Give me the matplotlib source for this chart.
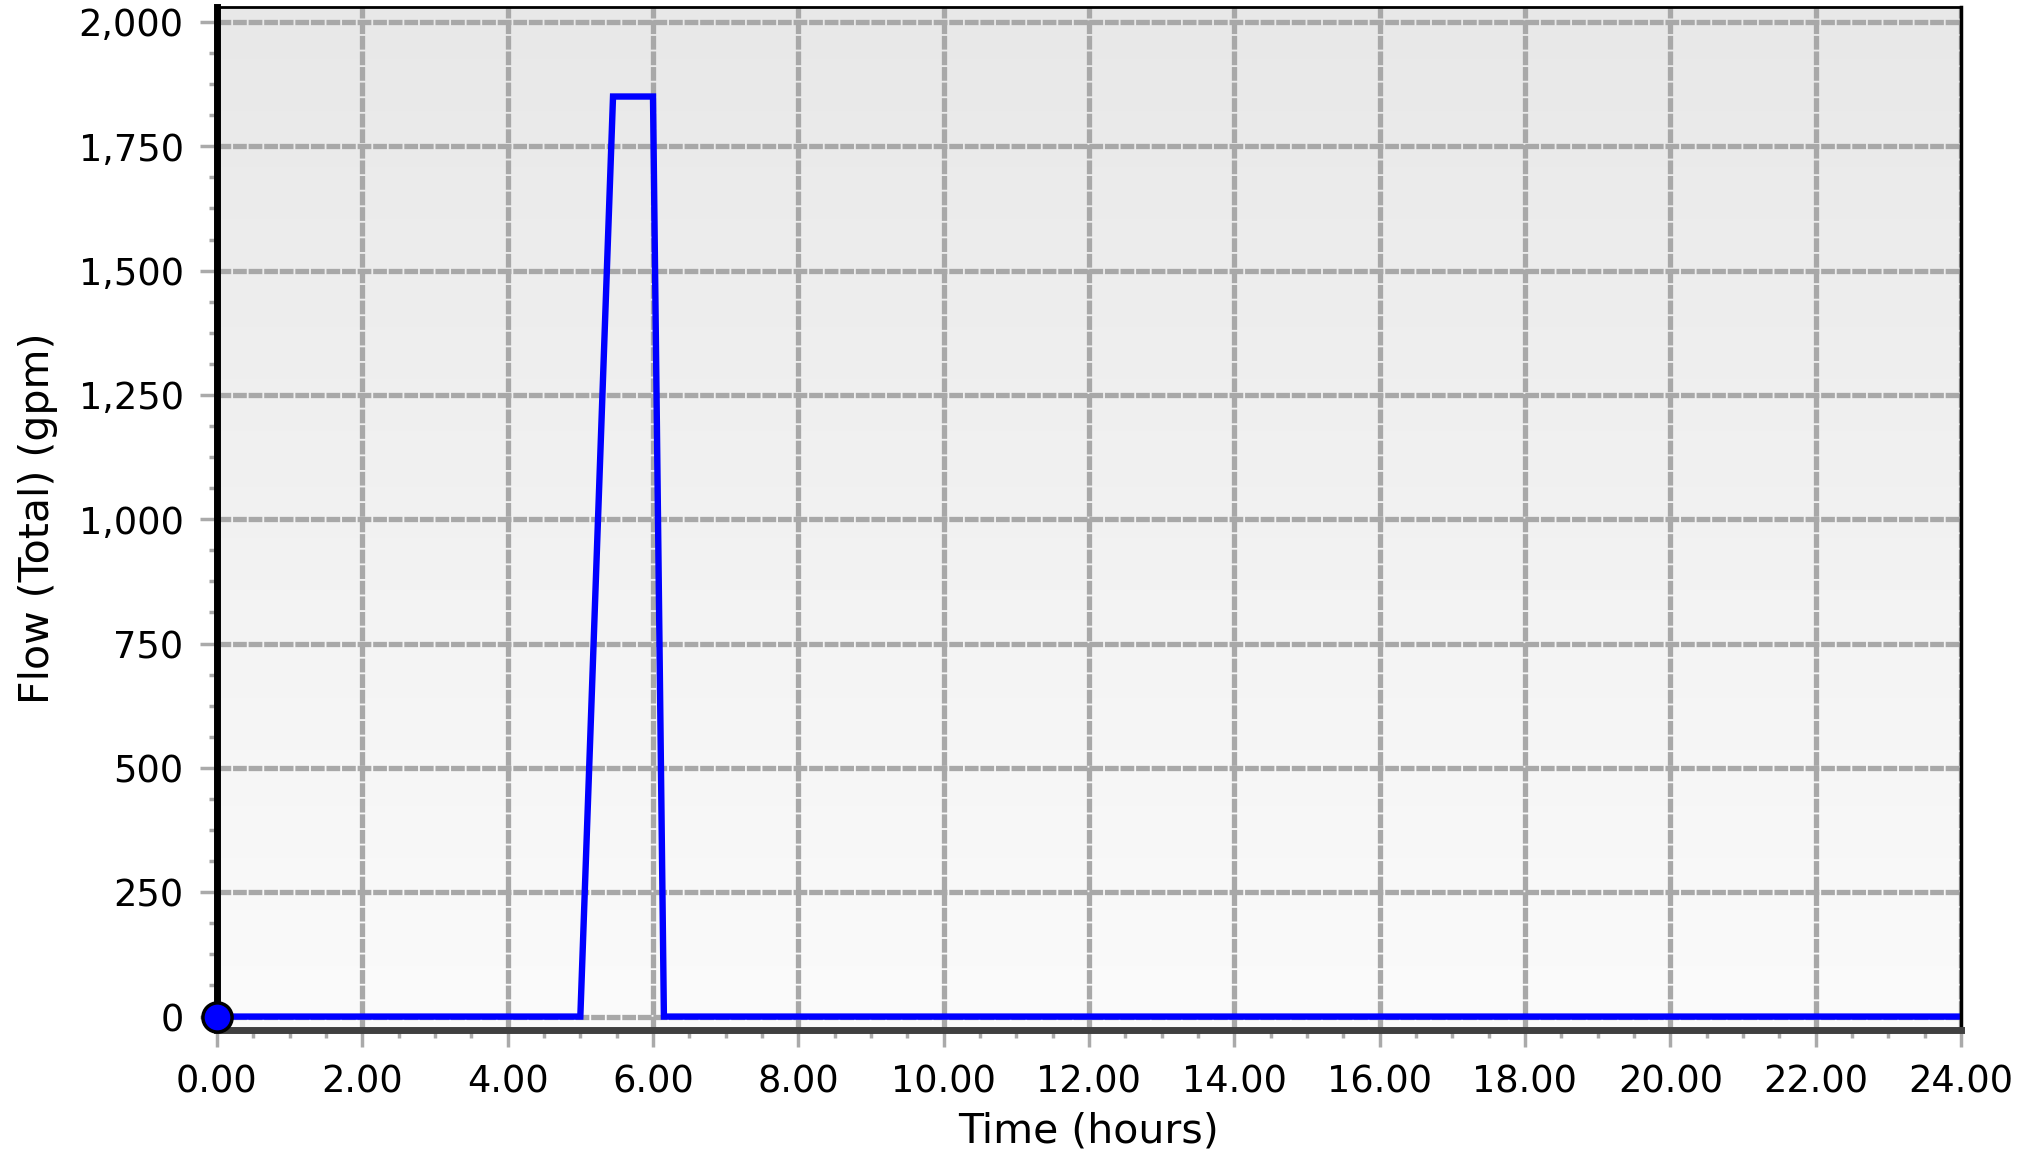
import matplotlib
matplotlib.use("Agg")
import matplotlib.pyplot as plt
import numpy as np
from matplotlib.ticker import FuncFormatter, MultipleLocator

# Data
time_hours = [0.0, 5.0, 5.45, 6.0, 6.15, 24.0]
flow_gpm = [0, 0, 1850, 1850, 0, 0]
x_ticks = [0, 2, 4, 6, 8, 10, 12, 14, 16, 18, 20, 22, 24]
y_ticks = [0, 250, 500, 750, 1000, 1250, 1500, 1750, 2000]

plt.rcParams['font.family'] = ['DejaVu Sans']

fig = plt.figure(figsize=(20.28, 11.59), dpi=100)
ax = fig.add_axes([217/2028, 1 - 1030/1159, (1961-217)/2028, (1030-7)/1159])

ax.set_xlim(0, 24)
ax.set_ylim(-27, 2030)

# gradient background
grad = np.linspace(0, 1, 256).reshape(-1, 1)
top = np.array([0.91, 0.91, 0.91])
bot = np.array([0.985, 0.985, 0.985])
img = top[None, None, :] * (1 - grad[:, :, None]) + bot[None, None, :] * grad[:, :, None]
ax.imshow(img, extent=[0, 1, 0, 1], transform=ax.transAxes, aspect='auto', zorder=0)
ax.set_facecolor('white')

# grid
ax.set_xticks(x_ticks)
ax.set_yticks(y_ticks)
ax.xaxis.set_minor_locator(MultipleLocator(0.5))
ax.yaxis.set_minor_locator(MultipleLocator(62.5))
ax.grid(True, which='major', color='#a8a8a8', linewidth=3.8,
        linestyle=(0, (2.6, 0.35)), zorder=1)
ax.set_axisbelow(True)

ax.plot(time_hours, flow_gpm, color='#0000ff', linewidth=4.6, zorder=3,
        solid_joinstyle='miter')
ax.plot([time_hours[0]], [flow_gpm[0]], 'o', markersize=21, markerfacecolor='#0000ff',
        markeredgecolor='black', markeredgewidth=2.5, clip_on=False, zorder=5)

ax.xaxis.set_major_formatter(FuncFormatter(lambda v, p: f"{v:.2f}"))
ax.yaxis.set_major_formatter(FuncFormatter(lambda v, p: f"{int(v):,}"))

ax.tick_params(axis='both', which='major', length=12, width=2.5, color='#aaaaaa',
               labelsize=26.5, labelcolor='black')
ax.tick_params(axis='both', which='minor', length=6, width=2.5, color='#aaaaaa')
ax.tick_params(axis='y', which='major', pad=12)
ax.tick_params(axis='x', which='major', pad=12)

ax.spines['left'].set_linewidth(5)
ax.spines['left'].set_color('black')
ax.spines['bottom'].set_linewidth(5)
ax.spines['bottom'].set_color('#404040')
ax.spines['top'].set_linewidth(2)
ax.spines['top'].set_color('black')
ax.spines['right'].set_linewidth(2.5)
ax.spines['right'].set_color('black')
for s in ax.spines.values():
    s.set_zorder(4)

ax.set_xlabel("Time (hours)", fontsize=29.5, labelpad=8)
ax.set_ylabel("Flow (Total) (gpm)", fontsize=29.5, labelpad=15)

fig.savefig("out.png", dpi=100)
